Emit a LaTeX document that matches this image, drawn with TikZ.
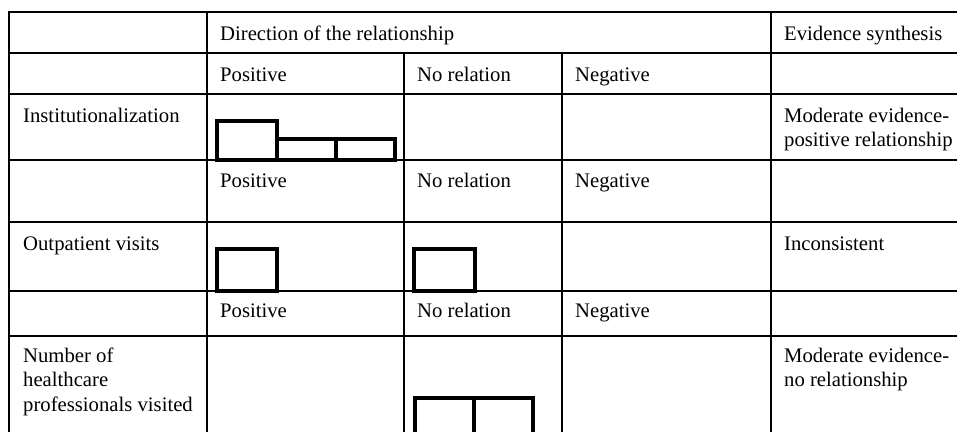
\documentclass[tikz,border=0pt]{standalone}
\usepackage{fontspec}
\setmainfont{Liberation Serif}
\begin{document}
\begin{tikzpicture}[x=1pt,y=-1pt,
  grid/.style={line width=2.4pt},
  bar/.style={line width=3.4pt,line join=miter},
  cell/.style={anchor=base west,inner sep=0pt,align=left,
    font=\fontsize{20.7}{24.8}\selectfont}]
\useasboundingbox (0,0) rectangle (957,431);
\begin{scope}
\clip (0,0) rectangle (957,431);
% horizontal rules
\foreach \yy in {12,53,94,160,222,291,336}
  \draw[grid] (7.8,\yy) -- (960,\yy);
% vertical rules
\draw[grid] (9,12) -- (9,440);
\draw[grid] (207,12) -- (207,440);
\draw[grid] (771,12) -- (771,440);
\draw[grid] (404,53) -- (404,440);
\draw[grid] (562,53) -- (562,440);
% bars: Institutionalization
\draw[bar] (217,160) rectangle (277,121);
\draw[bar] (277,160) rectangle (336,139);
\draw[bar] (336,160) rectangle (395,139);
% bars: Outpatient visits
\draw[bar] (217,291) rectangle (277,249);
\draw[bar] (414,291) rectangle (475,249);
% bars: Number of healthcare professionals visited
\draw[bar] (415,445) rectangle (474,398);
\draw[bar] (474,445) rectangle (533,398);
\end{scope}
% header
\node[cell] (dir) at (220,40) {Direction of the relationship};
\node[cell] (evs) at (784,40) {Evidence synthesis};
% category rows
\node[cell] (p1) at (220,81) {Positive};
\node[cell] (n1) at (417,81) {No relation};
\node[cell] (g1) at (575,81) {Negative};
\node[cell] (p2) at (220,187) {Positive};
\node[cell] (n2) at (417,187) {No relation};
\node[cell] (g2) at (575,187) {Negative};
\node[cell] (p3) at (220,317) {Positive};
\node[cell] (n3) at (417,317) {No relation};
\node[cell] (g3) at (575,317) {Negative};
% outcomes (base anchor = baseline of the last line)
\node[cell] (inst) at (23,122) {Institutionalization};
\node[cell] (inste) at (784,146.8) {Moderate evidence-\\positive relationship};
\node[cell] (outp) at (23,250) {Outpatient visits};
\node[cell] (outpe) at (784,250) {Inconsistent};
\node[cell] (num) at (23,411.6) {Number of\\healthcare\\professionals visited};
\node[cell] (nume) at (784,386.8) {Moderate evidence-\\no relationship};
\end{tikzpicture}
\end{document}
